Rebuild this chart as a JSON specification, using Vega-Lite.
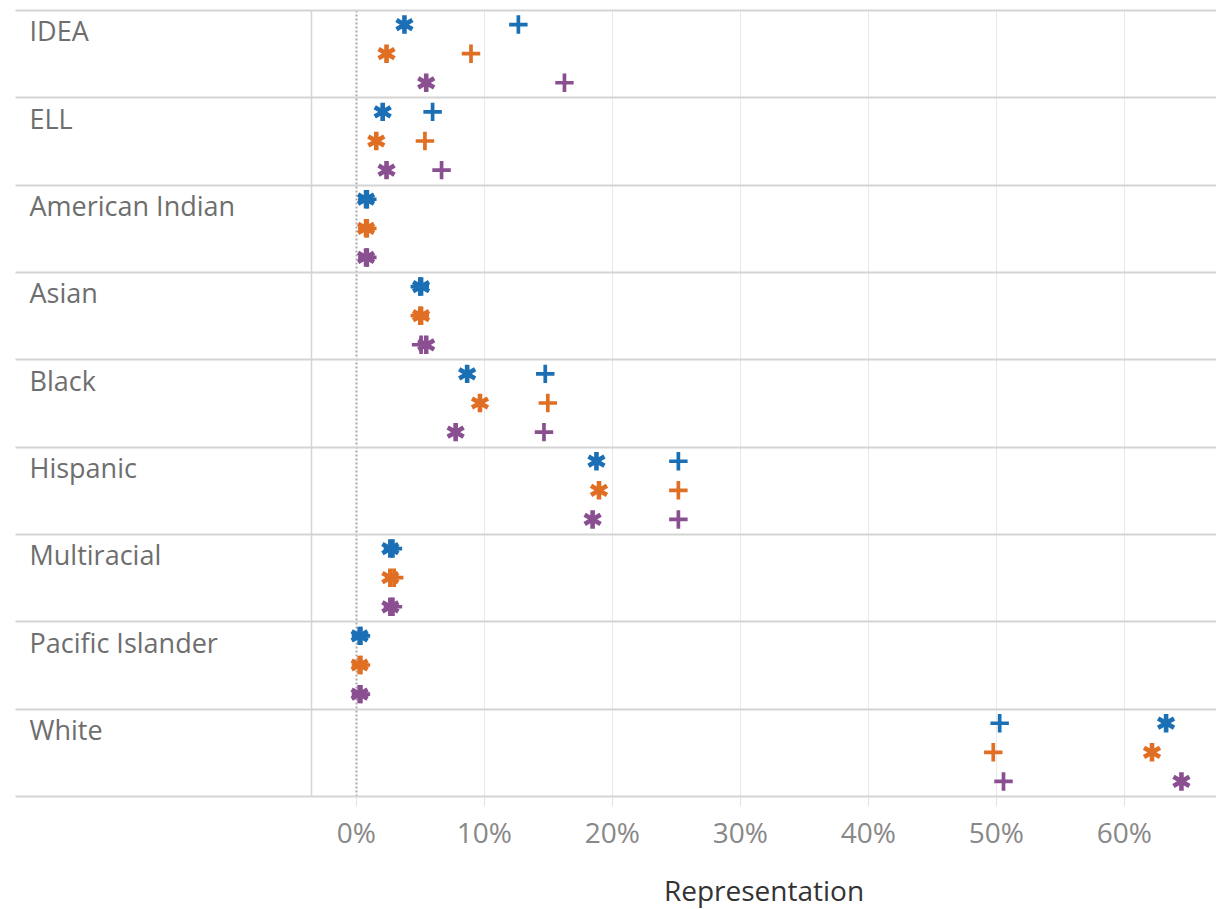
{
  "$schema": "https://vega.github.io/schema/vega-lite/v6.json",
  "width": 905,
  "height": 786,
  "padding": {"left": 311, "top": 10, "right": 0, "bottom": 113},
  "autosize": {"type": "none"},
  "background": "white",
  "config": {"view": {"stroke": null}, "font": "Open Sans"},
  "data": {
    "values": [
      {"group": "IDEA", "series": "S1", "marker": "star", "value": 0.038},
      {"group": "IDEA", "series": "S1", "marker": "plus", "value": 0.127},
      {"group": "IDEA", "series": "S2", "marker": "star", "value": 0.024},
      {"group": "IDEA", "series": "S2", "marker": "plus", "value": 0.090},
      {"group": "IDEA", "series": "S3", "marker": "star", "value": 0.055},
      {"group": "IDEA", "series": "S3", "marker": "plus", "value": 0.163},
      {"group": "ELL", "series": "S1", "marker": "star", "value": 0.021},
      {"group": "ELL", "series": "S1", "marker": "plus", "value": 0.060},
      {"group": "ELL", "series": "S2", "marker": "star", "value": 0.016},
      {"group": "ELL", "series": "S2", "marker": "plus", "value": 0.054},
      {"group": "ELL", "series": "S3", "marker": "star", "value": 0.024},
      {"group": "ELL", "series": "S3", "marker": "plus", "value": 0.067},
      {"group": "American Indian", "series": "S1", "marker": "star", "value": 0.008},
      {"group": "American Indian", "series": "S1", "marker": "plus", "value": 0.009},
      {"group": "American Indian", "series": "S2", "marker": "star", "value": 0.008},
      {"group": "American Indian", "series": "S2", "marker": "plus", "value": 0.009},
      {"group": "American Indian", "series": "S3", "marker": "star", "value": 0.008},
      {"group": "American Indian", "series": "S3", "marker": "plus", "value": 0.009},
      {"group": "Asian", "series": "S1", "marker": "star", "value": 0.051},
      {"group": "Asian", "series": "S1", "marker": "plus", "value": 0.050},
      {"group": "Asian", "series": "S2", "marker": "star", "value": 0.051},
      {"group": "Asian", "series": "S2", "marker": "plus", "value": 0.050},
      {"group": "Asian", "series": "S3", "marker": "star", "value": 0.055},
      {"group": "Asian", "series": "S3", "marker": "plus", "value": 0.051},
      {"group": "Black", "series": "S1", "marker": "star", "value": 0.087},
      {"group": "Black", "series": "S1", "marker": "plus", "value": 0.148},
      {"group": "Black", "series": "S2", "marker": "star", "value": 0.097},
      {"group": "Black", "series": "S2", "marker": "plus", "value": 0.150},
      {"group": "Black", "series": "S3", "marker": "star", "value": 0.078},
      {"group": "Black", "series": "S3", "marker": "plus", "value": 0.147},
      {"group": "Hispanic", "series": "S1", "marker": "star", "value": 0.188},
      {"group": "Hispanic", "series": "S1", "marker": "plus", "value": 0.252},
      {"group": "Hispanic", "series": "S2", "marker": "star", "value": 0.190},
      {"group": "Hispanic", "series": "S2", "marker": "plus", "value": 0.252},
      {"group": "Hispanic", "series": "S3", "marker": "star", "value": 0.185},
      {"group": "Hispanic", "series": "S3", "marker": "plus", "value": 0.252},
      {"group": "Multiracial", "series": "S1", "marker": "star", "value": 0.027},
      {"group": "Multiracial", "series": "S1", "marker": "plus", "value": 0.029},
      {"group": "Multiracial", "series": "S2", "marker": "star", "value": 0.027},
      {"group": "Multiracial", "series": "S2", "marker": "plus", "value": 0.030},
      {"group": "Multiracial", "series": "S3", "marker": "star", "value": 0.027},
      {"group": "Multiracial", "series": "S3", "marker": "plus", "value": 0.029},
      {"group": "Pacific Islander", "series": "S1", "marker": "star", "value": 0.003},
      {"group": "Pacific Islander", "series": "S1", "marker": "plus", "value": 0.004},
      {"group": "Pacific Islander", "series": "S2", "marker": "star", "value": 0.003},
      {"group": "Pacific Islander", "series": "S2", "marker": "plus", "value": 0.004},
      {"group": "Pacific Islander", "series": "S3", "marker": "star", "value": 0.003},
      {"group": "Pacific Islander", "series": "S3", "marker": "plus", "value": 0.004},
      {"group": "White", "series": "S1", "marker": "star", "value": 0.633},
      {"group": "White", "series": "S1", "marker": "plus", "value": 0.503},
      {"group": "White", "series": "S2", "marker": "star", "value": 0.622},
      {"group": "White", "series": "S2", "marker": "plus", "value": 0.498},
      {"group": "White", "series": "S3", "marker": "star", "value": 0.645},
      {"group": "White", "series": "S3", "marker": "plus", "value": 0.506}
    ]
  },
  "mark": {"type": "point", "filled": true, "opacity": 1, "size": 340, "strokeWidth": 0},
  "encoding": {
    "x": {
      "field": "value",
      "type": "quantitative",
      "title": "Representation",
      "scale": {"domain": [-0.035, 0.672], "nice": false, "zero": false},
      "axis": {
        "values": [0, 0.1, 0.2, 0.3, 0.4, 0.5, 0.6],
        "format": ".0%",
        "domain": false,
        "grid": true,
        "gridColor": {"condition": {"test": "datum.value === 0", "value": "#a8a8a8"}, "value": "#e8e8e8"},
        "gridDash": {"condition": {"test": "datum.value === 0", "value": [2, 2]}, "value": []},
        "gridWidth": {"condition": {"test": "datum.value === 0", "value": 2}, "value": 1},
        "ticks": true,
        "tickColor": "#e2e2e2",
        "tickSize": 10,
        "tickWidth": 1,
        "labelFont": "Open Sans",
        "labelFontSize": 28,
        "labelColor": "#888888",
        "labelPadding": 14,
        "titleFont": "Open Sans",
        "titleFontSize": 28,
        "titleFontWeight": 500,
        "titleColor": "#333333",
        "titlePadding": 30
      }
    },
    "y": {
      "field": "group",
      "type": "nominal",
      "title": null,
      "sort": ["IDEA", "ELL", "American Indian", "Asian", "Black", "Hispanic", "Multiracial", "Pacific Islander", "White"],
      "scale": {"paddingInner": 0, "paddingOuter": 0},
      "axis": {
        "tickBand": "extent",
        "grid": true,
        "gridColor": "#d4d4d4",
        "gridWidth": 2,
        "ticks": true,
        "tickColor": "#d4d4d4",
        "tickWidth": 2,
        "tickSize": 296,
        "domain": true,
        "domainColor": "#d4d4d4",
        "domainWidth": 1.5,
        "labelAlign": "left",
        "labelBaseline": "middle",
        "labelPadding": -14,
        "labelOffset": -21,
        "labelFont": "Open Sans",
        "labelFontSize": 27,
        "labelColor": "#6e6e6e",
        "labelLimit": 0
      }
    },
    "yOffset": {
      "field": "series",
      "type": "nominal",
      "sort": ["S1", "S2", "S3"],
      "scale": {"type": "point", "padding": 0.5}
    },
    "color": {
      "field": "series",
      "type": "nominal",
      "scale": {"domain": ["S1", "S2", "S3"], "range": ["#1a6fb5", "#e06f24", "#8a4f91"]},
      "legend": null
    },
    "shape": {
      "field": "marker",
      "type": "nominal",
      "scale": {
        "domain": ["star", "plus"],
        "range": [
          "M-0.25,-1L0.25,-1L0.25,1L-0.25,1Z M0.741,-0.7165L0.991,-0.2835L-0.741,0.7165L-0.991,0.2835Z M-0.991,-0.2835L-0.741,-0.7165L0.991,0.2835L0.741,0.7165Z",
          "M-0.2,-1H0.2V-0.2H1V0.2H0.2V1H-0.2V0.2H-1V-0.2H-0.2Z"
        ]
      },
      "legend": null
    }
  }
}
